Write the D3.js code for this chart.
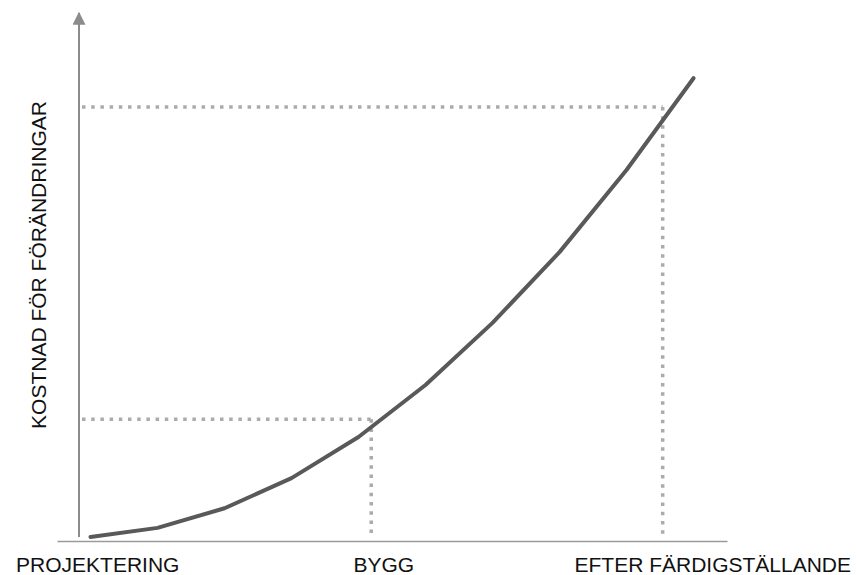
<!DOCTYPE html>
<html>
<head>
<meta charset="utf-8">
<script src="https://cdn.jsdelivr.net/npm/d3@7"></script>
<style>
  body { margin: 0; background: #fff; }
  text { font-family: "Liberation Sans", Arial, sans-serif; fill: #111; }
</style>
</head>
<body>
<svg id="chart"></svg>
<script>
// curve: project phase (index) vs cost of changes
const phases = [0, 1, 2, 3, 4, 5, 6, 7, 8, 9];
const cost = [0, 2, 6.3, 12.9, 21.9, 33.3, 46.9, 62.4, 80.4, 100.5];

// dotted guide markers on the curve
const markerPhase = [4.19, 8.54];
const markerCost = [25.8, 94.2];

// category labels along the bottom
const tickLabels = ["PROJEKTERING", "BYGG", "EFTER FÄRDIGSTÄLLANDE"];
const tickPhase = [0.1, 4.37, 9.28];

const yLabel = "KOSTNAD FÖR FÖRÄNDRINGAR";

const width = 856;
const height = 575;

const svg = d3.select("#chart")
  .attr("width", width)
  .attr("height", height);

const x = d3.scaleLinear().domain([-0.5, 9.5]).range([57, 727]);
const y = d3.scaleLinear().domain([0, 115]).range([537, 12]);

// arrow head for y axis
svg.append("defs").append("marker")
  .attr("id", "arrow")
  .attr("viewBox", "0 0 10 10")
  .attr("refX", 9)
  .attr("refY", 5)
  .attr("markerWidth", 6.5)
  .attr("markerHeight", 6.5)
  .attr("markerUnits", "strokeWidth")
  .attr("orient", "auto")
  .append("path")
  .attr("d", "M0,0 L10,5 L0,10 Z")
  .attr("fill", "#8c8c8c");

// x axis with labels
const xAxis = svg.append("g")
  .attr("transform", "translate(0,541)")
  .call(d3.axisBottom(x)
    .tickValues(tickPhase)
    .tickFormat((d, i) => tickLabels[i])
    .tickSize(0)
    .tickSizeOuter(0)
    .tickPadding(16));
xAxis.select(".domain").attr("stroke", "#9a9a9a").attr("stroke-width", 1.5);
xAxis.selectAll("text")
  .style("font-size", "21px")
  .style("font-family", "'Liberation Sans', Arial, sans-serif")
  .attr("fill", "#111");

// y axis (just the arrow line)
svg.append("line")
  .attr("x1", 79).attr("x2", 79)
  .attr("y1", y(0)).attr("y2", y(115) + 1)
  .attr("stroke", "#8c8c8c")
  .attr("stroke-width", 2)
  .attr("marker-end", "url(#arrow)");

// dotted guides
markerPhase.forEach((p, i) => {
  const g = svg.append("g")
    .attr("stroke", "#ababab")
    .attr("stroke-width", 3.5)
    .attr("stroke-dasharray", "3.5,5.7")
    .attr("fill", "none");
  g.append("line")
    .attr("x1", 82).attr("x2", x(p))
    .attr("y1", y(markerCost[i])).attr("y2", y(markerCost[i]));
  g.append("line")
    .attr("x1", x(p)).attr("x2", x(p))
    .attr("y1", y(markerCost[i])).attr("y2", y(0) - 1);
});

// cost curve
const line = d3.line()
  .x((d, i) => x(phases[i]))
  .y(d => y(d));

svg.append("path")
  .datum(cost)
  .attr("d", line)
  .attr("fill", "none")
  .attr("stroke", "#595959")
  .attr("stroke-width", 4)
  .attr("stroke-linecap", "round")
  .attr("stroke-linejoin", "round");

// y label
svg.append("text")
  .attr("transform", "rotate(-90)")
  .attr("x", -265)
  .attr("y", 46)
  .attr("text-anchor", "middle")
  .style("font-size", "21px")
  .text(yLabel);
</script>
</body>
</html>
